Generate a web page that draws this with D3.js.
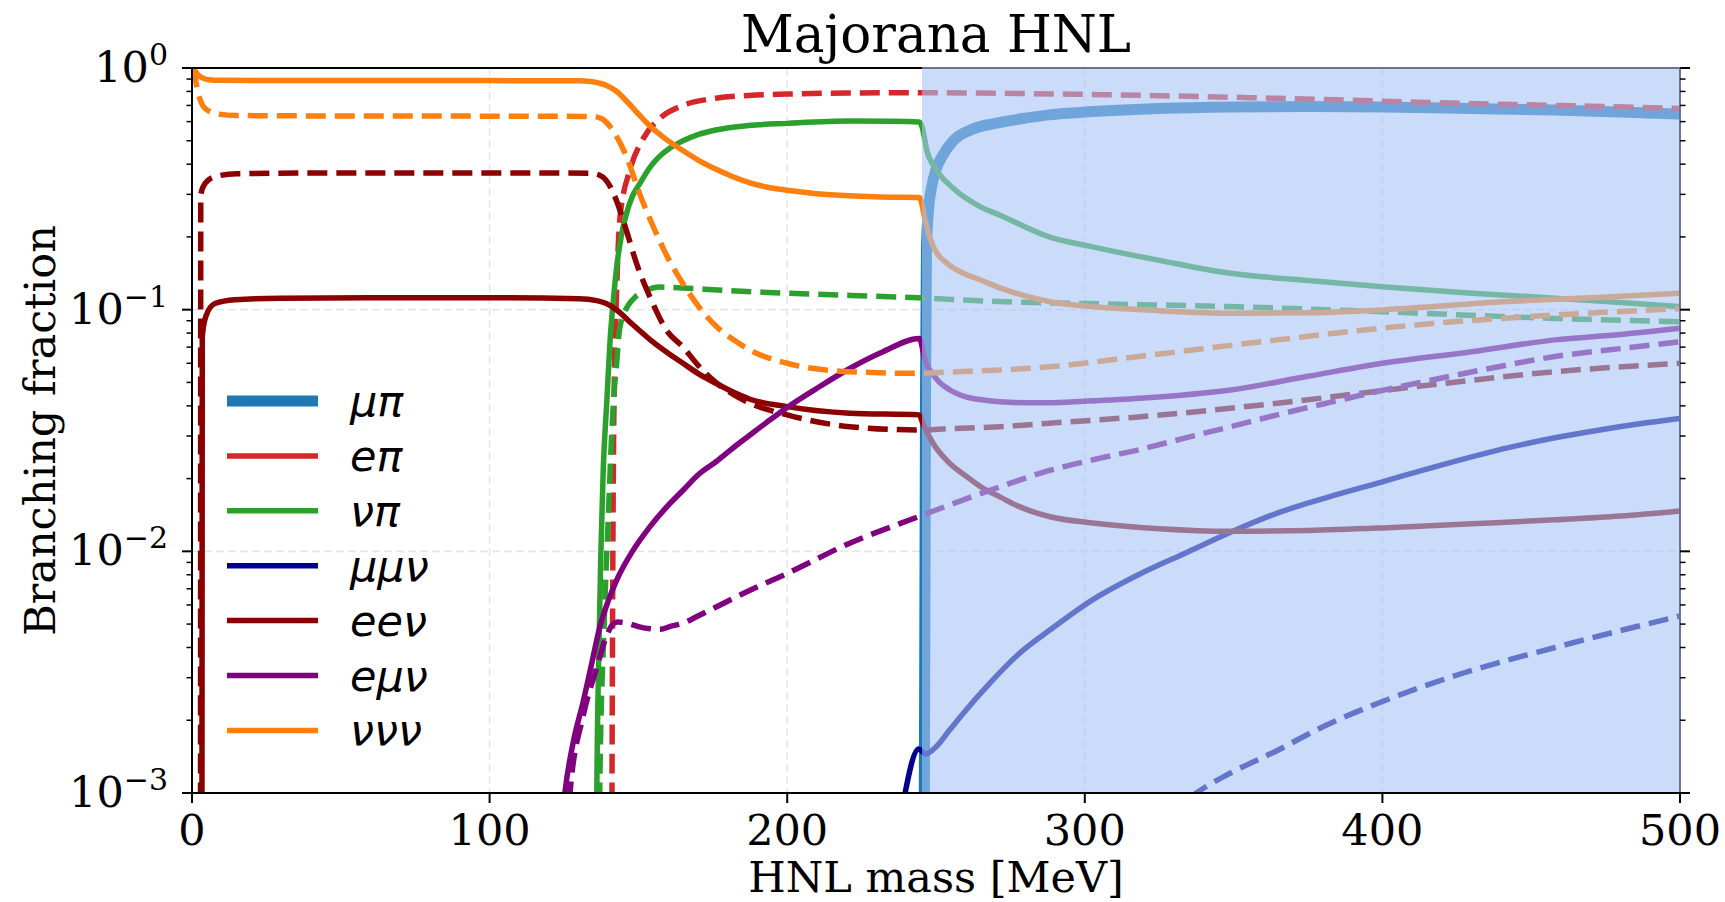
<!DOCTYPE html>
<html><head><meta charset="utf-8">
<script src="https://cdn.jsdelivr.net/npm/d3@7"></script>
<style>html,body{margin:0;padding:0;background:#fff;} svg{display:block;}</style>
</head><body>
<svg id="chart" width="1725" height="902"></svg>
<script>
// ---------------- DATA (HNL mass [MeV], branching fraction) ----------------
const xTicks = [0, 100, 200, 300, 400, 500];
const yTicks = [1e-3, 1e-2, 1e-1, 1];
const yTickExp = ["\u22123", "\u22122", "\u22121", "0"];
const shadeRange = [245.3, 500];

const labels = ["μπ", "eπ", "νπ", "μμν", "eeν", "eμν", "ννν"];
const colors = ["#1f77b4", "#d62728", "#2ca02c", "#00008b", "#8b0000", "#800080", "#ff7f0e"];

const muPi_solid = [[245.8,1e-4],[246.2,0.003],[246.5,0.05],[246.8,0.18],[247.5,0.26],[248.5,0.32],[250,0.38],[252,0.43],[255.8,0.50],[262.5,0.56],[270,0.59],[280,0.62],[288,0.64],[302.6,0.66],[325,0.68],[349,0.69],[375,0.693],[400,0.69],[430,0.68],[458,0.67],[480,0.657],[500,0.645]];

const ePi_dashed = [[140.9,1e-4],[141.2,0.002],[141.5,0.015],[141.9,0.05],[142.5,0.10],[143.8,0.24],[147.2,0.38],[151.6,0.51],[157.3,0.62],[165,0.70],[176,0.75],[187,0.77],[200,0.78],[220,0.788],[245,0.79],[272,0.786],[320,0.77],[365,0.749],[427,0.714],[470,0.695],[500,0.68]];

const nuPi_solid = [[135.6,1e-4],[136.0,0.0009],[136.6,0.0033],[137.4,0.01],[138.2,0.022],[139.4,0.042],[140.5,0.075],[141.6,0.11],[142.7,0.15],[144.2,0.2],[146,0.25],[148,0.295],[150.5,0.333],[154,0.39],[157,0.43],[161,0.47],[165,0.50],[170,0.53],[176,0.554],[187,0.578],[200,0.59],[221,0.603],[235,0.602],[244.4,0.598],[245.3,0.572],[246.9,0.458],[250.2,0.378],[255.8,0.318],[264.8,0.267],[271.5,0.246],[288,0.20],[302.6,0.182],[325,0.16],[349,0.1415],[375,0.132],[400,0.1245],[430,0.117],[458,0.1115],[480,0.107],[500,0.103]];

const nuPi_dashed = [[136.5,1e-4],[137,0.001],[138.5,0.005],[140,0.015],[141,0.03],[141.8,0.045],[142.7,0.06],[143.5,0.08],[145,0.095],[146.5,0.104],[149,0.113],[152,0.119],[157,0.124],[165,0.123],[180,0.12],[200,0.117],[244,0.112],[271,0.108],[300,0.106],[349,0.103],[400,0.098],[458,0.092],[500,0.089]];

const muMuNu_solid = [[238.9,0.0009],[244.2,0.00152],[246.5,0.00145],[250.2,0.00156],[254.7,0.00183],[259.2,0.00214],[268.1,0.00285],[278.2,0.0038],[288,0.0047],[302.6,0.0063],[318,0.0080],[333.5,0.0098],[349,0.012],[364.7,0.0144],[382,0.0168],[400,0.0194],[420,0.0228],[442,0.0268],[458,0.0295],[473,0.0318],[487,0.0338],[500,0.0355]];

const muMuNu_dashed = [[328,0.0008],[337.5,0.001],[349,0.00121],[364.7,0.0015],[380,0.00188],[400,0.00239],[427,0.00313],[458,0.0040],[480,0.0047],[500,0.0054]];

const eeNu_solid = [[3.3,1e-4],[3.45,0.077],[4.6,0.0935],[7.7,0.106],[14.4,0.110],[30,0.1115],[60,0.112],[100,0.112],[130,0.111],[136,0.109],[139.2,0.106],[142.7,0.0997],[148,0.087],[154,0.075],[160,0.066],[165,0.060],[170,0.0545],[176,0.0496],[182,0.0455],[187.5,0.0426],[200,0.0397],[221,0.0373],[244.4,0.0367],[245.5,0.034],[249,0.028],[254,0.0235],[260.3,0.0204],[265,0.0185],[271.5,0.0168],[277,0.0155],[288.3,0.0139],[302.6,0.0131],[325,0.0124],[349,0.0121],[375,0.0122],[400,0.0125],[430,0.013],[458,0.0135],[480,0.014],[500,0.0147]];

const eeNu_dashed = [[2.85,1e-4],[2.95,0.30],[4.4,0.333],[7.7,0.355],[15,0.365],[50,0.368],[100,0.368],[134,0.367],[137,0.36],[139,0.345],[141,0.315],[143,0.275],[146,0.212],[149.4,0.155],[154,0.112],[159.5,0.082],[165,0.070],[170,0.059],[176,0.050],[182,0.0445],[187.5,0.041],[200,0.0367],[221,0.0328],[244,0.0318],[254.7,0.0322],[271.5,0.0328],[288,0.0339],[318,0.036],[364.7,0.041],[411,0.048],[458,0.0554],[500,0.060]];

const eMuNu_solid = [[124.5,0.0008],[125.3,0.001],[128,0.0016],[131.5,0.0024],[134,0.0033],[137.1,0.0049],[140,0.0063],[142.7,0.0076],[148,0.0100],[153.9,0.01265],[160,0.0155],[165,0.0179],[170,0.0207],[176.3,0.0236],[182,0.0269],[187.5,0.0303],[193,0.0341],[200,0.0394],[210,0.0473],[221,0.0571],[232,0.0668],[244.4,0.076],[246.3,0.062],[250,0.052],[254.7,0.0465],[260,0.0436],[266,0.0423],[271.5,0.0416],[280,0.0412],[288,0.0412],[300,0.0418],[318.7,0.043],[349,0.0465],[375,0.053],[400,0.060],[430,0.067],[458,0.075],[480,0.079],[500,0.0838]];

const eMuNu_dashed = [[126,0.0007],[127,0.001],[131.5,0.0021],[136,0.0033],[139.4,0.0045],[141.5,0.005],[143,0.0051],[146,0.00505],[150,0.00488],[154,0.00478],[157.3,0.00476],[161,0.0049],[165,0.00504],[170,0.0054],[176.3,0.0059],[187.5,0.0069],[200,0.0081],[221,0.0108],[244,0.0139],[271.5,0.0185],[287,0.0214],[302.6,0.0239],[318,0.0263],[333.5,0.0294],[349,0.0328],[364.7,0.0367],[380,0.0407],[396,0.0452],[411,0.0495],[435,0.0568],[458,0.064],[480,0.069],[500,0.0737]];

const nuNuNu_solid = [[0,1.0],[0.8,0.98],[2.1,0.935],[3.5,0.91],[5.5,0.895],[10,0.889],[50,0.888],[100,0.887],[130,0.885],[134,0.88],[137,0.865],[139.5,0.845],[142.7,0.80],[146,0.73],[149,0.665],[153.9,0.575],[159,0.51],[165,0.455],[170.5,0.413],[176.3,0.38],[182,0.354],[187.5,0.335],[193,0.322],[200,0.312],[210,0.302],[221,0.296],[235,0.292],[244.4,0.291],[245.2,0.275],[246.3,0.235],[249.1,0.182],[253.6,0.156],[259.2,0.1415],[264.8,0.133],[271.5,0.123],[280,0.114],[288,0.108],[302.6,0.103],[325,0.099],[349,0.0966],[375,0.097],[400,0.0998],[442,0.108],[470,0.112],[500,0.117]];

const nuNuNu_dashed = [[0,1.0],[0.7,0.95],[2.1,0.786],[4.4,0.68],[8.8,0.645],[15,0.636],[50,0.633],[100,0.632],[134,0.63],[137,0.622],[139,0.60],[140.5,0.572],[146,0.43],[150.5,0.30],[156,0.207],[160,0.163],[165,0.128],[170,0.104],[176.3,0.085],[182,0.075],[187.5,0.068],[200,0.060],[221,0.0554],[244,0.0545],[254.7,0.0552],[271.5,0.0563],[288,0.058],[318,0.064],[364.7,0.075],[411.3,0.0865],[458,0.095],[500,0.101]];

const solidSeries = [muPi_solid, null, nuPi_solid, muMuNu_solid, eeNu_solid, eMuNu_solid, nuNuNu_solid];
const dashedSeries = [null, ePi_dashed, nuPi_dashed, muMuNu_dashed, eeNu_dashed, eMuNu_dashed, nuNuNu_dashed];
const lineWidths = [11, 5.5, 5.5, 5.5, 5.5, 5.5, 5.5];

// ---------------- DRAWING ----------------
const plot = {left: 192, right: 1680, top: 68, bottom: 793};
const svg = d3.select("#chart");
const x = d3.scaleLinear().domain([0, 500]).range([plot.left, plot.right]);
const y = d3.scaleLog().domain([1e-3, 1]).range([plot.bottom, plot.top]);
const serif = "'DejaVu Serif', serif";

svg.append("defs").append("clipPath").attr("id", "clip")
  .append("rect").attr("x", plot.left).attr("y", plot.top)
  .attr("width", plot.right - plot.left).attr("height", plot.bottom - plot.top);

// grid
const grid = svg.append("g");
xTicks.filter(t => t > 0 && t < 500).forEach(t => {
  grid.append("line").attr("x1", x(t)).attr("x2", x(t)).attr("y1", plot.top).attr("y2", plot.bottom)
    .attr("stroke", "#e6e6e6").attr("stroke-width", 1.6).attr("stroke-dasharray", "8,4");
});
yTicks.filter(t => t > 1e-3 && t < 1).forEach(t => {
  grid.append("line").attr("x1", plot.left).attr("x2", plot.right).attr("y1", y(t)).attr("y2", y(t))
    .attr("stroke", "#e6e6e6").attr("stroke-width", 1.6).attr("stroke-dasharray", "8,4");
});

// lines
const line = d3.line().x(d => x(d[0])).y(d => y(d[1])).curve(d3.curveMonotoneX);
const lines = svg.append("g").attr("clip-path", "url(#clip)");
labels.forEach((lab, i) => {
  [[solidSeries[i], null], [dashedSeries[i], "20,9"]].forEach(([data, dash]) => {
    if (!data) return;
    lines.append("path").datum(data).attr("d", line)
      .attr("fill", "none").attr("stroke", colors[i]).attr("stroke-width", lineWidths[i])
      .attr("stroke-dasharray", dash).attr("stroke-linejoin", "round");
  });
});

// spines (left, top, right)
const sp = svg.append("g").attr("stroke", "#000").attr("stroke-width", 2);
sp.append("line").attr("x1", plot.left).attr("x2", plot.left).attr("y1", plot.top).attr("y2", plot.bottom);
sp.append("line").attr("x1", plot.left).attr("x2", plot.right).attr("y1", plot.top).attr("y2", plot.top);
sp.append("line").attr("x1", plot.right).attr("x2", plot.right).attr("y1", plot.top).attr("y2", plot.bottom);

// shaded region (on top of lines)
svg.append("rect")
  .attr("x", x(shadeRange[0])).attr("y", plot.top - 1)
  .attr("width", x(shadeRange[1]) - x(shadeRange[0]) + 1).attr("height", plot.bottom - plot.top)
  .attr("fill", "rgb(167,197,247)").attr("fill-opacity", 0.6);

// bottom spine
svg.append("line").attr("x1", plot.left - 1).attr("x2", plot.right + 1).attr("y1", plot.bottom).attr("y2", plot.bottom)
  .attr("stroke", "#000").attr("stroke-width", 2);

// x ticks
const xa = svg.append("g");
xTicks.forEach(t => {
  xa.append("line").attr("x1", x(t)).attr("x2", x(t)).attr("y1", plot.bottom).attr("y2", plot.bottom + 10)
    .attr("stroke", "#000").attr("stroke-width", 2);
  xa.append("text").attr("x", x(t)).attr("y", 845).attr("text-anchor", "middle")
    .attr("font-family", serif).attr("font-size", 43).text(t);
});

// y ticks (both sides)
const ya = svg.append("g");
const minors = [];
for (let e = -3; e < 0; e++) for (let k = 2; k <= 9; k++) minors.push(k * Math.pow(10, e));
[plot.left, plot.right].forEach((sx, side) => {
  const dir = side === 0 ? -1 : 1;
  yTicks.forEach(t => {
    ya.append("line").attr("x1", sx).attr("x2", sx + dir * 10).attr("y1", y(t)).attr("y2", y(t))
      .attr("stroke", "#000").attr("stroke-width", 2);
  });
  minors.forEach(t => {
    ya.append("line").attr("x1", sx).attr("x2", sx + dir * 5.5).attr("y1", y(t)).attr("y2", y(t))
      .attr("stroke", "#000").attr("stroke-width", 1.5);
  });
});
yTicks.forEach((t, i) => {
  const tx = ya.append("text").attr("x", 168).attr("y", y(t) + 14).attr("text-anchor", "end")
    .attr("font-family", serif).attr("font-size", 43);
  tx.append("tspan").text("10");
  tx.append("tspan").attr("dy", -17).attr("font-size", 30).text(yTickExp[i]);
});

// axis labels & title
svg.append("text").attr("x", (plot.left + plot.right) / 2).attr("y", 892).attr("text-anchor", "middle")
  .attr("font-family", serif).attr("font-size", 43).text("HNL mass [MeV]");
svg.append("text").attr("transform", `translate(55,${(plot.top + plot.bottom) / 2}) rotate(-90)`)
  .attr("text-anchor", "middle").attr("font-family", serif).attr("font-size", 43).text("Branching fraction");
svg.append("text").attr("x", (plot.left + plot.right) / 2).attr("y", 52).attr("text-anchor", "middle")
  .attr("font-family", serif).attr("font-size", 51.5).text("Majorana HNL");

// legend
const lg = svg.append("g");
labels.forEach((lab, i) => {
  const ry = 401 + i * 54.9;
  lg.append("line").attr("x1", 227).attr("x2", 318).attr("y1", ry).attr("y2", ry)
    .attr("stroke", colors[i]).attr("stroke-width", lineWidths[i]);
  lg.append("text").attr("x", 350).attr("y", ry + 15).attr("font-family", "'DejaVu Sans', sans-serif")
    .attr("font-style", "italic").attr("font-size", 43).text(lab);
});
</script>
</body></html>
